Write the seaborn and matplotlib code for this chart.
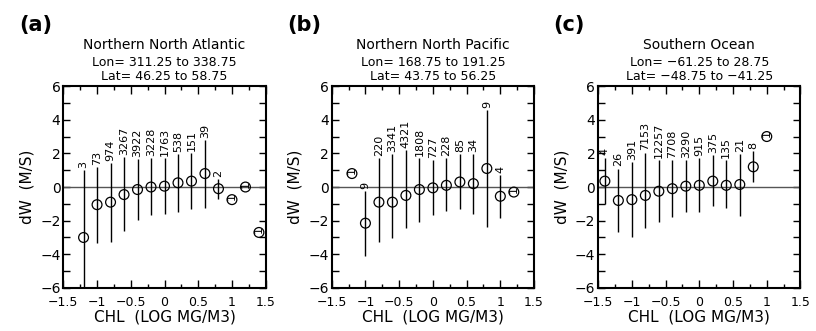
import numpy as np
import matplotlib
matplotlib.use("Agg")
import matplotlib.pyplot as plt
import seaborn as sns
from matplotlib.ticker import MultipleLocator

nan = np.nan

# panel (a) Northern North Atlantic
a_x = [-1.2, -1.0, -0.8, -0.6, -0.4, -0.2, 0.0, 0.2, 0.4, 0.6, 0.8, 1.0, 1.2, 1.4]
a_y = [-3.0, -1.05, -0.9, -0.45, -0.15, 0.0, 0.05, 0.25, 0.35, 0.8, -0.1, -0.75, 0.0, -2.7]
a_lo = [-6.3, -3.35, -3.25, -2.6, -1.95, -1.65, -1.6, -1.5, -1.3, -1.25, -0.7, nan, nan, nan]
a_hi = [1.0, 1.2, 1.45, 1.8, 1.65, 1.7, 1.7, 1.95, 2.0, 2.8, 0.45, nan, nan, nan]
a_n = [3, 73, 974, 3267, 3922, 3228, 1763, 538, 151, 39, 2, 1, 1, 1]

# panel (b) Northern North Pacific
b_x = [-1.2, -1.0, -0.8, -0.6, -0.4, -0.2, 0.0, 0.2, 0.4, 0.6, 0.8, 1.0, 1.2]
b_y = [0.8, -2.15, -0.9, -0.9, -0.5, -0.15, -0.05, 0.1, 0.3, 0.2, 1.1, -0.55, -0.3]
b_lo = [nan, -4.1, -3.25, -3.05, -2.45, -2.05, -1.65, -1.45, -1.3, -1.6, -2.4, -1.85, nan]
b_hi = [nan, -0.25, 1.7, 1.95, 2.2, 1.7, 1.6, 1.7, 1.95, 1.95, 4.55, 0.7, nan]
b_n = [1, 9, 220, 3341, 4321, 1808, 727, 228, 85, 34, 9, 4, 1]

# panel (c) Southern Ocean
c_x = [-1.4, -1.2, -1.0, -0.8, -0.6, -0.4, -0.2, 0.0, 0.2, 0.4, 0.6, 0.8, 1.0]
c_y = [0.35, -0.8, -0.75, -0.5, -0.25, -0.1, 0.05, 0.1, 0.35, 0.1, 0.15, 1.2, 3.0]
c_lo = [-1.0, -2.65, -2.95, -2.45, -2.05, -1.8, -1.5, -1.5, -1.15, -1.25, -1.7, 0.3, nan]
c_hi = [1.75, 1.1, 1.5, 2.05, 1.6, 1.6, 1.6, 1.7, 1.9, 1.6, 1.95, 2.15, nan]
c_n = [4, 26, 391, 7153, 12257, 7708, 3290, 915, 375, 135, 21, 8, 1]

panels = [
    ("(a)", ["Northern North Atlantic", "Lon= 311.25 to 338.75", "Lat= 46.25 to 58.75"],
     a_x, a_y, a_lo, a_hi, a_n),
    ("(b)", ["Northern North Pacific", "Lon= 168.75 to 191.25", "Lat= 43.75 to 56.25"],
     b_x, b_y, b_lo, b_hi, b_n),
    ("(c)", ["Southern Ocean", "Lon= \u221261.25 to 28.75", "Lat= \u221248.75 to \u221241.25"],
     c_x, c_y, c_lo, c_hi, c_n),
]

sns.set_style("ticks", {"axes.edgecolor": "black", "text.color": "black",
                        "xtick.color": "black", "ytick.color": "black",
                        "axes.labelcolor": "black"})
plt.rcParams['font.family'] = ['DejaVu Sans']

fig = plt.figure(figsize=(8.16, 3.31), dpi=100)
lefts = [0.0776, 0.4065, 0.733]

for left, (tag, titles, x, y, lo, hi, n) in zip(lefts, panels):
    ax = fig.add_axes([left, 0.130, 0.248, 0.610])
    ax.axhline(0, color="#555555", lw=1.0, zorder=1)
    ax.vlines(x, lo, hi, color="black", lw=1.0, zorder=2)
    sns.scatterplot(x=x, y=y, ax=ax, marker="o", s=50, facecolors="none",
                    edgecolor="black", linewidth=0.9, zorder=3)
    for xi, yi, hii, ni in zip(x, y, hi, n):
        if np.isnan(hii):
            ax.text(xi, yi - 0.05, str(ni), rotation=90, ha="center", va="bottom",
                    fontsize=8, zorder=4)
        else:
            ax.annotate(str(ni), (xi, hii), xytext=(0, 1.5), textcoords="offset points",
                        rotation=90, ha="center", va="bottom", fontsize=8, zorder=4)
    ax.set_xlim(-1.5, 1.5)
    ax.set_ylim(-6, 6)
    ax.xaxis.set_minor_locator(MultipleLocator(0.25))
    ax.yaxis.set_major_locator(MultipleLocator(2))
    ax.yaxis.set_minor_locator(MultipleLocator(1))
    ax.set_xticks([-1.5, -1, -0.5, 0, 0.5, 1, 1.5])
    ax.set_xticklabels(["\u22121.5", "\u22121", "\u22120.5", "0", "0.5", "1", "1.5"])
    ax.tick_params(which="both", direction="in", top=True, right=True, width=1.0)
    ax.tick_params(axis="x", which="major", length=6, labelsize=9, pad=6)
    ax.tick_params(axis="x", which="minor", length=3)
    ax.tick_params(axis="y", which="both", length=5, labelsize=10, pad=2)
    for sp in ax.spines.values():
        sp.set_linewidth(1.5)
        sp.set_visible(True)
    ax.set_xlabel("CHL  (LOG MG/M3)", fontsize=11, labelpad=0)
    ax.set_ylabel("dW  (M/S)", fontsize=11, labelpad=4)
    ax.text(-0.22, 1.30, tag, transform=ax.transAxes, fontsize=15,
            fontweight="bold", ha="left", va="center")
    ax.text(0.5, 1.203, titles[0], transform=ax.transAxes, fontsize=10,
            ha="center", va="center")
    ax.text(0.5, 1.119, titles[1], transform=ax.transAxes, fontsize=9,
            ha="center", va="center")
    ax.text(0.5, 1.045, titles[2], transform=ax.transAxes, fontsize=9,
            ha="center", va="center")

fig.savefig("out.png", dpi=100)
